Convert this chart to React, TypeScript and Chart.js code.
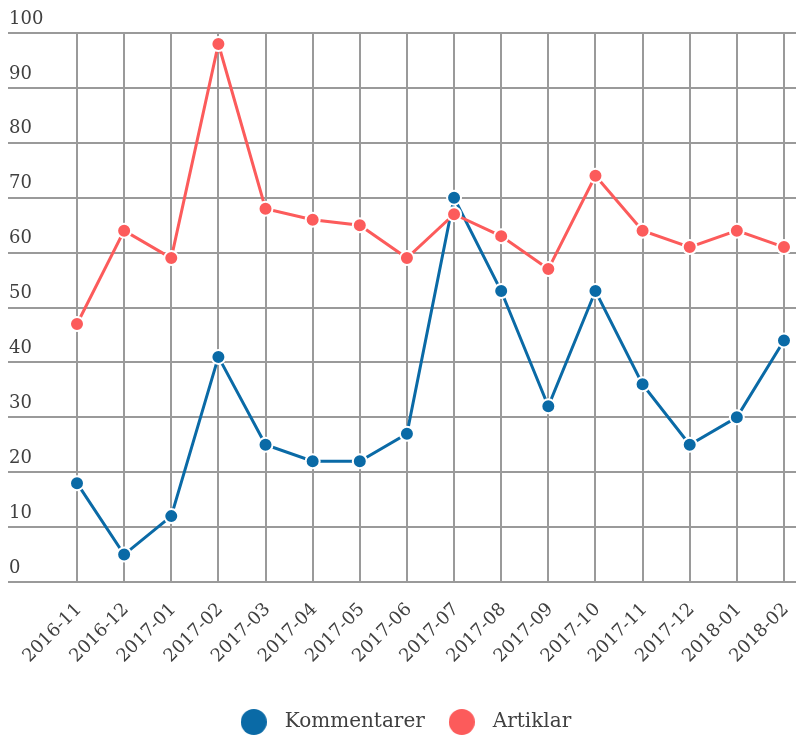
import React, { useEffect, useRef } from 'react';
import { Chart, registerables } from 'chart.js';

Chart.register(...registerables);

const categories = [
  '2016-11', '2016-12', '2017-01', '2017-02', '2017-03', '2017-04', '2017-05', '2017-06',
  '2017-07', '2017-08', '2017-09', '2017-10', '2017-11', '2017-12', '2018-01', '2018-02',
];
const kommentarer = [18, 5, 12, 41, 25, 22, 22, 27, 70, 53, 32, 53, 36, 25, 30, 44];
const artiklar = [47, 64, 59, 98, 68, 66, 65, 59, 67, 63, 57, 74, 64, 61, 64, 61];
const seriesNames = ['Kommentarer', 'Artiklar'];
const seriesColors = ['#0a6aa6', '#fc5b5b'];
const yMin = 0;
const yMax = 100;
const yStep = 10;

const FONT = '"DejaVu Serif", serif';
const TEXT = '#404040';
const GRID = '#9a9a9a';

function makeDot(color: string): HTMLCanvasElement {
  const c = document.createElement('canvas');
  c.width = 26;
  c.height = 26;
  const ctx = c.getContext('2d')!;
  ctx.fillStyle = color;
  ctx.beginPath();
  ctx.arc(13, 13, 13, 0, Math.PI * 2);
  ctx.fill();
  return c;
}

export default function App() {
  const ref = useRef<HTMLCanvasElement>(null);

  useEffect(() => {
    if (!ref.current) return;
    const dots = seriesColors.map(makeDot);
    const last = categories.length - 1;
    const chart = new Chart(ref.current, {
      type: 'line',
      data: {
        datasets: [
          {
            label: seriesNames[0],
            data: kommentarer.map((v, i) => ({ x: i, y: v })),
            borderColor: seriesColors[0],
            backgroundColor: seriesColors[0],
            pointBackgroundColor: seriesColors[0],
            pointBorderColor: '#ffffff',
            pointBorderWidth: 2,
            pointRadius: 7,
            borderWidth: 3,
            tension: 0,
            clip: false,
            order: 1,
          },
          {
            label: seriesNames[1],
            data: artiklar.map((v, i) => ({ x: i, y: v })),
            borderColor: seriesColors[1],
            backgroundColor: seriesColors[1],
            pointBackgroundColor: seriesColors[1],
            pointBorderColor: '#ffffff',
            pointBorderWidth: 2,
            pointRadius: 7,
            borderWidth: 3,
            tension: 0,
            clip: false,
            order: 0,
          },
        ],
      },
      options: {
        animation: false,
        responsive: false,
        layout: { autoPadding: false, padding: { top: 33, left: 8, right: 0, bottom: -4 } },
        scales: {
          x: {
            type: 'linear',
            min: -1.464,
            max: last + 0.255,
            border: { display: false },
            grid: { color: GRID, lineWidth: 2, drawTicks: false },
            ticks: {
              stepSize: 1,
              includeBounds: false,
              autoSkip: false,
              minRotation: 45,
              maxRotation: 45,
              padding: 17,
              labelOffset: 2,
              color: TEXT,
              font: { family: FONT, size: 18 },
              callback: (v: any) => categories[v as number] ?? '',
            },
            afterBuildTicks: (scale: any) => {
              scale.ticks = scale.ticks.filter(
                (t: any) => Number.isInteger(t.value) && t.value >= 0 && t.value <= last,
              );
            },
            afterFit: (scale: any) => {
              scale.height = 114;
              scale.paddingLeft = 0;
              scale.paddingRight = 0;
              scale.paddingTop = 0;
              scale.paddingBottom = 0;
            },
          },
          y: {
            min: yMin,
            max: yMax,
            border: { display: false },
            grid: { color: GRID, lineWidth: 2, drawTicks: false },
            ticks: {
              stepSize: yStep,
              mirror: true,
              padding: 1,
              labelOffset: -14,
              color: TEXT,
              font: { family: FONT, size: 18 },
            },
            afterFit: (scale: any) => {
              scale.width = 0;
              scale.paddingLeft = 0;
              scale.paddingRight = 0;
              scale.paddingTop = 0;
              scale.paddingBottom = 0;
            },
          },
        },
        plugins: {
          tooltip: { enabled: false },
          legend: {
            position: 'bottom',
            labels: {
              usePointStyle: true,
              pointStyleWidth: 42,
              padding: 16,
              color: TEXT,
              font: { family: FONT, size: 20 },
              sort: (a: any, b: any) => a.datasetIndex - b.datasetIndex,
              generateLabels: (ch: any) => {
                const items = Chart.defaults.plugins.legend.labels.generateLabels(ch);
                return items.map((it: any) => ({ ...it, pointStyle: dots[it.datasetIndex] }));
              },
            },
          },
        },
      },
    } as any);
    return () => chart.destroy();
  }, []);

  return (
    <div style={{ position: 'absolute', left: 0, top: 0, width: 796, height: 738 }}>
      <canvas ref={ref} width={796} height={738} style={{ display: 'block' }} />
    </div>
  );
}
